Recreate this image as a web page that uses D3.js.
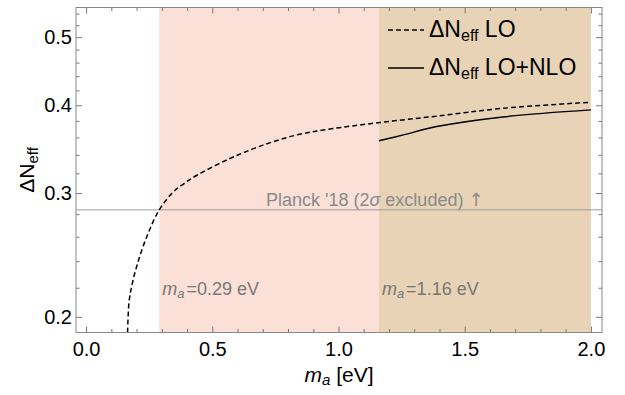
<!DOCTYPE html>
<html lang="en">
<head>
  <meta charset="UTF-8">
  <title>Delta N_eff vs axion mass</title>
  <style>
    body { margin: 0; background: #fff; }
    svg { font-family: "Liberation Sans", Arial, sans-serif; }
    .tick text { font-size: 20px; fill: #000; }
    .tick line { stroke: #777; }
    .domain { display: none; }
  </style>
</head>
<body>
<div id="chart"></div>
<script src="https://d3js.org/d3.v7.min.js"></script>
<script>
  // LO curve (dashed)
  const loMass = [0.1644, 0.170, 0.181, 0.201, 0.240, 0.290, 0.345, 0.388, 0.432, 0.570, 0.701, 0.836, 0.966, 1.164, 1.389, 1.651, 2.0];
  const loNeff = [0.190, 0.2097, 0.2213, 0.2363, 0.2598, 0.284, 0.301, 0.3095, 0.317, 0.336, 0.351, 0.363, 0.370, 0.378, 0.386, 0.396, 0.404];
  // LO+NLO curve (solid)
  const nloMass = [1.16, 1.257, 1.389, 1.651, 2.0];
  const nloNeff = [0.356, 0.363, 0.373, 0.385, 0.394];
  // bands and Planck bound
  const bandEdges = [0.29, 1.16, 2.0];
  const planckBound = 0.284;
  const xTicks = [0.0, 0.5, 1.0, 1.5, 2.0];
  const yTicks = [0.2, 0.3, 0.4, 0.5];

  const width = 625, height = 395;
  const mLeft = 76, mRight = 602, mTop = 7.5, mBottom = 332.5;

  const svg = d3.select('#chart').append('svg')
    .attr('width', width)
    .attr('height', height);

  const x = d3.scaleLinear().domain([-0.04, 2.044]).range([mLeft, mRight]);
  const y = d3.scaleLog().domain([0.19, 0.551]).range([mBottom, mTop]);

  // shaded bands
  const bandColors = ['#fbe0d8', '#e8d3b6'];
  svg.selectAll('.band')
    .data([0, 1])
    .enter().append('rect')
    .attr('x', i => x(bandEdges[i]))
    .attr('width', i => x(bandEdges[i + 1]) - x(bandEdges[i]))
    .attr('y', mTop)
    .attr('height', mBottom - mTop)
    .attr('fill', i => bandColors[i]);

  // minor ticks
  const xMinor = d3.range(0, 21).map(d => d / 10).filter(d => !xTicks.some(t => Math.abs(t - d) < 1e-6));
  const yMinor = d3.range(20, 56, 2).map(d => d / 100).filter(d => !yTicks.some(t => Math.abs(t - d) < 1e-6));

  function addAxis(axis, tx, ty) {
    return svg.append('g').attr('transform', `translate(${tx},${ty})`).call(axis);
  }

  addAxis(d3.axisBottom(x).tickValues(xTicks).tickFormat(d3.format('.1f')).tickSize(-6).tickPadding(9), 0, mBottom);
  addAxis(d3.axisBottom(x).tickValues(xMinor).tickFormat('').tickSize(-3.5), 0, mBottom);
  addAxis(d3.axisTop(x).tickValues(xTicks).tickFormat('').tickSize(-6), 0, mTop);
  addAxis(d3.axisTop(x).tickValues(xMinor).tickFormat('').tickSize(-3.5), 0, mTop);
  addAxis(d3.axisLeft(y).tickValues(yTicks).tickFormat(d3.format('.1f')).tickSize(-6).tickPadding(4), mLeft, 0);
  addAxis(d3.axisLeft(y).tickValues(yMinor).tickFormat('').tickSize(-3.5), mLeft, 0);
  addAxis(d3.axisRight(y).tickValues(yTicks).tickFormat('').tickSize(-6), mRight, 0);
  addAxis(d3.axisRight(y).tickValues(yMinor).tickFormat('').tickSize(-3.5), mRight, 0);

  // Planck line
  svg.append('line')
    .attr('x1', mLeft).attr('x2', mRight)
    .attr('y1', y(planckBound)).attr('y2', y(planckBound))
    .attr('stroke', '#999').attr('stroke-opacity', 0.65).attr('stroke-width', 1.5);

  const line = d3.line()
    .x(d => x(d[0]))
    .y(d => y(d[1]))
    .curve(d3.curveCatmullRom.alpha(0.5));

  svg.append('path')
    .datum(d3.zip(loMass, loNeff))
    .attr('d', line)
    .attr('fill', 'none')
    .attr('stroke', '#000')
    .attr('stroke-width', 1.5)
    .attr('stroke-dasharray', '5,3');

  svg.append('path')
    .datum(d3.zip(nloMass, nloNeff))
    .attr('d', line)
    .attr('fill', 'none')
    .attr('stroke', '#000')
    .attr('stroke-width', 1.5);

  // frame
  svg.append('rect')
    .attr('x', mLeft).attr('y', mTop)
    .attr('width', mRight - mLeft).attr('height', mBottom - mTop)
    .attr('fill', 'none').attr('stroke', '#888').attr('stroke-width', 1);

  // Planck label
  svg.append('text')
    .attr('x', 266).attr('y', y(planckBound) - 4)
    .attr('font-size', 18).attr('fill', '#8a8a8a')
    .html('Planck \'18 (2<tspan font-style="italic">σ</tspan> excluded) <tspan font-family="DejaVu Sans">↑</tspan>');

  // band labels
  [0, 1].forEach(i => {
    const t = svg.append('text')
      .attr('x', x(bandEdges[i]) + 3).attr('y', 295)
      .attr('font-size', 18).attr('fill', '#777');
    t.append('tspan').attr('font-style', 'italic').text('m');
    t.append('tspan').attr('font-style', 'italic').attr('font-size', 13).attr('dy', 3).text('a');
    t.append('tspan').attr('dy', -3).attr('dx', 2).text('=' + bandEdges[i].toFixed(2) + ' eV');
  });

  // legend
  const legendItems = [
    { label: 'LO', dash: '5,3', yy: 37 },
    { label: 'LO+NLO', dash: null, yy: 75 }
  ];
  legendItems.forEach(d => {
    svg.append('line')
      .attr('x1', 388).attr('x2', 424)
      .attr('y1', d.yy - 7).attr('y2', d.yy - 7)
      .attr('stroke', '#000').attr('stroke-width', 1.3)
      .attr('stroke-dasharray', d.dash);
    const t = svg.append('text').attr('x', 429).attr('y', d.yy).attr('font-size', 23);
    t.append('tspan').text('ΔN');
    t.append('tspan').attr('font-size', 16).attr('dy', 4).text('eff');
    t.append('tspan').attr('dy', -4).text(' ' + d.label);
  });

  // axis titles
  const xt = svg.append('text')
    .attr('x', (mLeft + mRight) / 2).attr('y', 382)
    .attr('text-anchor', 'middle').attr('font-size', 21);
  xt.append('tspan').attr('font-style', 'italic').text('m');
  xt.append('tspan').attr('font-style', 'italic').attr('font-size', 15).attr('dy', 3).text('a');
  xt.append('tspan').attr('dy', -3).text(' [eV]');

  const yt = svg.append('text')
    .attr('transform', 'translate(34,170) rotate(-90)')
    .attr('text-anchor', 'middle').attr('font-size', 21);
  yt.append('tspan').text('ΔN');
  yt.append('tspan').attr('font-size', 15).attr('dy', 4).text('eff');
</script>
</body>
</html>
